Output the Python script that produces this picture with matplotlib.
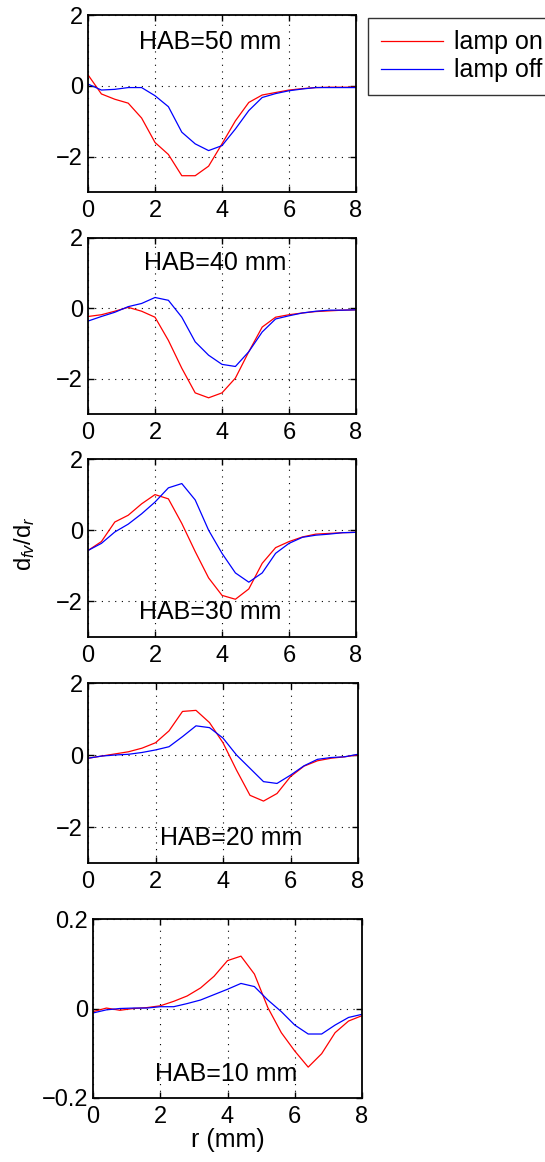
import numpy as np
import matplotlib
matplotlib.use('Agg')
import matplotlib.pyplot as plt

plt.rcParams['font.family'] = ['Liberation Sans', 'DejaVu Sans']
plt.rcParams['mathtext.fontset'] = 'custom'
plt.rcParams['mathtext.rm'] = 'Liberation Sans'
plt.rcParams['mathtext.it'] = 'Liberation Sans:italic'

# radial positions (mm)
r = [0.0, 0.4, 0.8, 1.2, 1.6, 2.0, 2.4, 2.8, 3.2, 3.6, 4.0,
     4.4, 4.8, 5.2, 5.6, 6.0, 6.4, 6.8, 7.2, 7.6, 8.0]

# d(fv)/dr profiles, lamp on / lamp off, for each height above burner
on_50 = [0.31, -0.23, -0.38, -0.49, -0.91, -1.60, -1.94, -2.54, -2.54, -2.27, -1.64,
         -0.99, -0.47, -0.26, -0.19, -0.12, -0.08, -0.05, -0.04, -0.04, -0.04]
off_50 = [0.05, -0.12, -0.10, -0.05, -0.05, -0.28, -0.59, -1.31, -1.64, -1.83, -1.69,
          -1.22, -0.70, -0.33, -0.22, -0.14, -0.09, -0.05, -0.05, -0.05, -0.05]

on_40 = [-0.23, -0.18, -0.08, 0.03, -0.08, -0.25, -0.91, -1.70, -2.40, -2.54, -2.40,
         -1.98, -1.23, -0.53, -0.25, -0.18, -0.13, -0.09, -0.07, -0.05, -0.04]
off_40 = [-0.36, -0.23, -0.11, 0.05, 0.14, 0.31, 0.23, -0.25, -0.95, -1.33, -1.59,
          -1.65, -1.23, -0.67, -0.30, -0.21, -0.13, -0.08, -0.05, -0.05, -0.04]

on_30 = [-0.57, -0.32, 0.23, 0.42, 0.74, 1.00, 0.88, 0.19, -0.60, -1.34, -1.83,
         -1.94, -1.65, -0.93, -0.49, -0.32, -0.19, -0.11, -0.09, -0.07, -0.06]
off_30 = [-0.57, -0.37, -0.05, 0.17, 0.46, 0.79, 1.19, 1.31, 0.85, 0.00, -0.65,
          -1.20, -1.46, -1.20, -0.65, -0.37, -0.20, -0.14, -0.11, -0.07, -0.06]

on_20 = [-0.09, -0.03, 0.03, 0.09, 0.19, 0.34, 0.67, 1.21, 1.24, 0.90, 0.34,
         -0.42, -1.12, -1.28, -1.07, -0.60, -0.31, -0.16, -0.09, -0.05, 0.00]
off_20 = [-0.09, -0.03, 0.00, 0.02, 0.07, 0.14, 0.23, 0.51, 0.81, 0.76, 0.47,
          0.00, -0.37, -0.74, -0.79, -0.56, -0.30, -0.12, -0.07, -0.05, 0.02]

on_10 = [-0.007, 0.001, -0.004, 0.000, 0.002, 0.006, 0.016, 0.028, 0.046, 0.072, 0.107,
         0.117, 0.077, 0.002, -0.054, -0.095, -0.131, -0.101, -0.054, -0.028, -0.016]
off_10 = [-0.010, -0.003, 0.000, 0.001, 0.001, 0.004, 0.004, 0.011, 0.019, 0.031, 0.043,
          0.056, 0.049, 0.019, -0.007, -0.037, -0.057, -0.057, -0.037, -0.020, -0.013]

labels = ['HAB=50 mm', 'HAB=40 mm', 'HAB=30 mm', 'HAB=20 mm', 'HAB=10 mm']
on_sets = [on_50, on_40, on_30, on_20, on_10]
off_sets = [off_50, off_40, off_30, off_20, off_10]

W, H = 545, 1162
fig = plt.figure(figsize=(W / 100, H / 100), dpi=100)

# axes boxes in pixels: left, top, right, bottom
boxes = [(88, 15, 356, 192),
         (88, 238, 356, 414),
         (88, 459, 356, 637),
         (88, 683, 358, 863),
         (93, 919, 362, 1098)]
# label positions in data units
text_pos = [(3.64, 1.23), (3.79, 1.30), (3.64, -2.30), (4.24, -2.30), (3.96, -0.146)]

axes = []
for i, (l, t, rr, b) in enumerate(boxes):
    ax = fig.add_axes([l / W, 1 - b / H, (rr - l) / W, (b - t) / H])
    ax.plot(r, on_sets[i], color='#ff0000', lw=0.9, label='lamp on')
    ax.plot(r, off_sets[i], color='#0000ff', lw=0.9, label='lamp off')
    ax.set_xlim(0, 8)
    ax.set_xticks([0, 2, 4, 6, 8])
    if i < 4:
        ax.set_ylim(-3, 2)
        ax.set_yticks([-2, 0, 2])
        ax.set_yticklabels(['\u22122', '0', '2'])
    else:
        ax.set_ylim(-0.2, 0.2)
        ax.set_yticks([-0.2, 0, 0.2])
        ax.set_yticklabels(['\u22120.2', '0', '0.2'])
    ax.grid(True, color='black', linestyle=(0, (1, 5)), linewidth=0.8)
    ax.tick_params(direction='in', top=True, right=True, length=4, width=1,
                   labelsize=17)
    ax.tick_params(axis='y', pad=3.5)
    ax.tick_params(axis='x', pad=6)
    for s in ax.spines.values():
        s.set_linewidth(1.3)
    ax.text(text_pos[i][0], text_pos[i][1], labels[i], fontsize=18,
            ha='center', va='center')
    axes.append(ax)

axes[4].set_xlabel('r (mm)', fontsize=18, labelpad=0)
fig.text(25 / W, 1 - 544 / H, r'd$_{fv}$/d$_{r}$', fontsize=17,
         rotation=90, ha='center', va='center')

leg = axes[0].legend(loc='upper left', bbox_to_anchor=(368 / W, 1 - 18 / H),
                     bbox_transform=fig.transFigure, fontsize=18, frameon=True,
                     fancybox=False, edgecolor='black', handlelength=2.5,
                     handletextpad=0.42, borderpad=0.5, labelspacing=0.15,
                     borderaxespad=0)
leg.get_frame().set_linewidth(1.0)

fig.savefig('out.png', dpi=100)
